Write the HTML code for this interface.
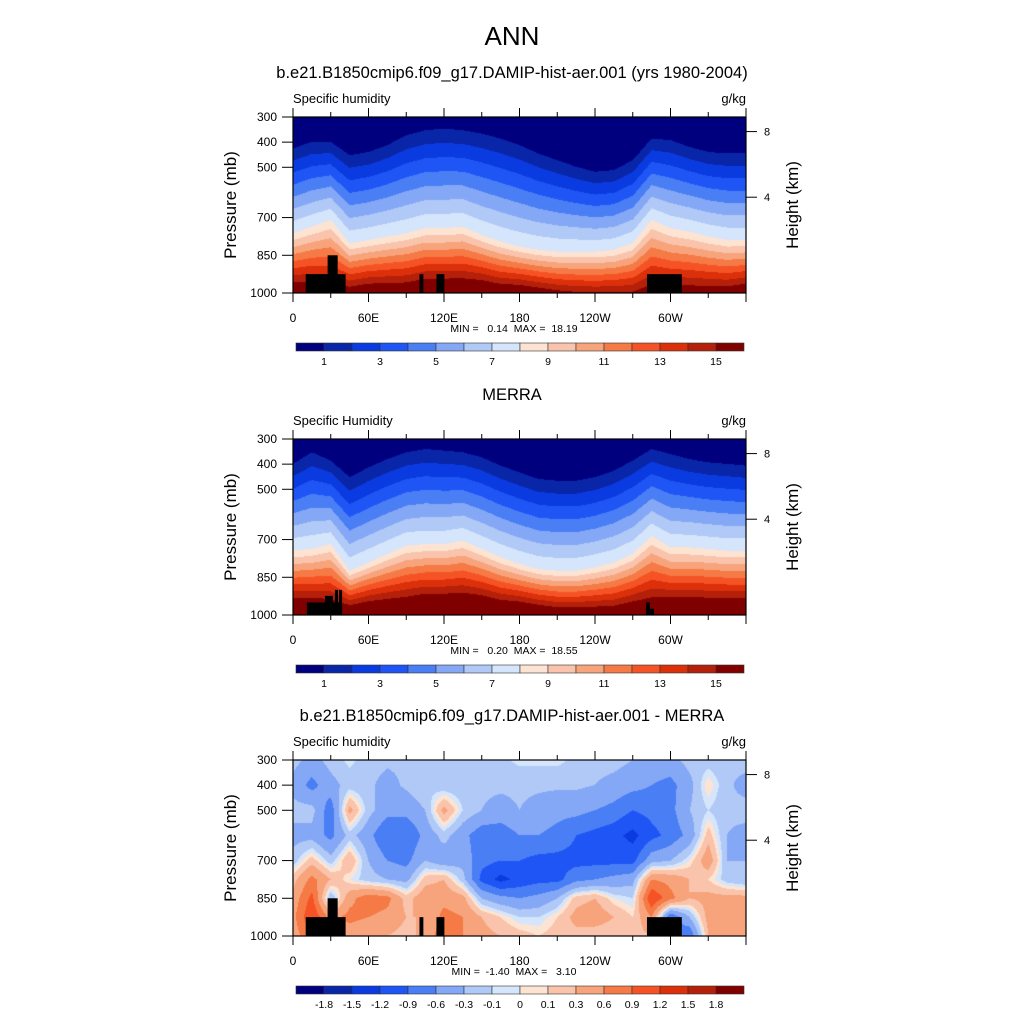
<!DOCTYPE html>
<html><head><meta charset="utf-8"><style>
html,body{margin:0;padding:0;background:#fff;}
#root{position:relative;width:1024px;height:1024px;overflow:hidden;background:#fff;}
canvas{position:absolute;}
svg{position:absolute;left:0;top:0;}
text{font-family:"Liberation Sans",sans-serif;fill:#000;white-space:pre;}
</style></head><body>
<div id="root">
<canvas id="c1" width="453" height="176" style="left:293px;top:117px"></canvas>
<canvas id="c2" width="453" height="176" style="left:293px;top:439px"></canvas>
<canvas id="c3" width="453" height="176" style="left:293px;top:760px"></canvas>
<svg id="ov" width="1024" height="1024">
<text x="512" y="45" font-size="26" text-anchor="middle">ANN</text>
</svg>
</div>
<script>
// ---- data ----
const lons = [0,15,30,45,60,75,90,105,120,135,150,165,180,195,210,225,240,255,270,285,300,315,330,345,360];
// panel 1 (model): pressure of q=1 contour, q=8 contour, q at 1000 mb
const modelP1 = [425,399,399,452,439,412,373,353,346,353,366,386,412,445,472,498,518,511,472,386,392,419,439,445,445];
const modelP8 = [762,736,709,802,789,775,762,742,742,736,769,795,815,828,835,835,835,828,802,709,742,756,775,789,789];
const modelQs = [16.5,16.5,16,16,16.5,16.5,16.5,17,17,17,17,16.5,16.5,16,15.5,15.2,15.1,15.1,15.2,16,16,16,16,16,16.5];
// panel 2 (MERRA)
const merraP1 = [399,353,386,452,413,380,353,340,346,353,373,406,433,459,466,466,452,426,386,340,360,380,393,399,406];
const merraP8 = [744,737,718,824,791,757,724,718,718,704,737,770,797,817,824,824,810,791,757,685,731,731,737,744,744];
const merraQs = [17.5,17.5,17,17,17.5,17.5,17.5,18,18,18,18,17.5,17.5,17,16.5,16.5,16.5,16.5,17,17,17.5,17.5,17.5,17.5,17.5];
// panel 3 (difference) grid: rows = lons, cols = pressure levels
const diffLevels = [300,400,500,600,700,775,850,925,1000];
const diffCols = [
 [-0.2,-0.4,-0.2,-0.4,-0.2,0.2,0.4,0.5,0.4],
 [-0.4,-0.7,-0.2,-0.4,0.2,0.7,1.0,1.2,0.9],
 [-0.2,-0.4,-0.8,-0.7,-0.2,0.3,-0.3,0.5,0.3],
 [-0.05,-0.2,0.4,-0.2,0.3,0.0,0.5,0.7,0.4],
 [-0.2,-0.25,-0.2,-0.5,-0.3,-0.2,0.8,0.6,0.3],
 [-0.25,-0.4,-0.5,-0.9,-0.6,-0.3,0.7,0.5,0.3],
 [-0.25,-0.25,-0.5,-0.9,-0.7,-0.4,0.2,0.3,0.2],
 [-0.1,-0.1,-0.3,-0.5,-0.3,0.2,0.5,0.3,0.4],
 [-0.25,-0.25,0.4,-0.2,-0.5,0.3,0.5,0.7,0.8],
 [-0.2,-0.25,-0.1,-0.5,-0.4,-0.2,0.4,0.6,0.6],
 [-0.2,-0.25,-0.3,-0.8,-0.8,-1.0,-0.3,0.3,0.4],
 [-0.15,-0.25,-0.4,-0.8,-0.9,-1.3,-0.5,0.1,0.3],
 [-0.05,-0.25,-0.3,-0.6,-0.9,-1.1,-0.6,-0.1,0.2],
 [-0.05,-0.25,-0.4,-0.6,-1.0,-1.0,-0.5,-0.1,0.1],
 [-0.05,-0.25,-0.5,-0.7,-1.0,-1.0,-0.3,0.1,0.2],
 [-0.15,-0.25,-0.5,-0.9,-1.0,-0.7,0.2,0.4,0.2],
 [-0.2,-0.3,-0.6,-1.0,-1.0,-0.6,0.3,0.5,0.1],
 [-0.2,-0.4,-0.7,-1.1,-1.0,-0.5,0.0,0.3,0.1],
 [-0.3,-0.5,-0.9,-1.3,-1.0,-0.4,-0.1,0.1,0.2],
 [-0.4,-0.6,-0.8,-1.0,-0.4,0.6,1.2,0.6,0.3],
 [-0.4,-0.7,-0.7,-0.8,-0.3,0.5,0.7,-0.9,-0.5],
 [-0.2,-0.4,-0.3,-0.5,0.0,0.3,0.3,-0.3,-0.9],
 [-0.2,0.1,-0.1,0.2,0.5,0.1,0.4,0.4,0.3],
 [-0.25,-0.25,-0.25,-0.3,-0.3,-0.2,0.4,0.5,0.4],
 [-0.2,-0.4,-0.2,-0.4,-0.3,-0.3,0.4,0.4,0.4]
];
// terrain blocks [lonStart, lonEnd, topPressure]
const terrainModel = [[10.1,41.8,925],[27.5,35.5,850],[100.5,103.6,925],[114,120.3,925],[281.3,309,925]];
const terrainMerra = [[11,39,950],[25.4,31.7,924],[33.3,35.7,900],[36.5,39,900],[280.5,283.7,950],[283.7,286.9,975]];
const absLevels = [1,2,3,4,5,6,7,8,9,10,11,12,13,14,15];
const absLabels = ['1','3','5','7','9','11','13','15'];
const diffBounds = [-1.8,-1.5,-1.2,-0.9,-0.6,-0.3,-0.1,0,0.1,0.3,0.6,0.9,1.2,1.5,1.8];
const diffLabels = ['-1.8','-1.5','-1.2','-0.9','-0.6','-0.3','-0.1','0','0.1','0.3','0.6','0.9','1.2','1.5','1.8'];
const xTickVals = [0,60,120,180,240,300];
const xTickLabels = ['0','60E','120E','180','120W','60W'];
const yTickVals = [300,400,500,700,850,1000];
const hTickVals = [8,4];
const hTickP = [358,619];
const palette = ['#00007f','#0a26a8','#0a3be0','#1f55f5','#4a7ef5','#84a8f5','#b0c9f7','#d5e5fb','#fde4d2','#f9c4ab','#f7a47d','#f57a45','#f55325','#db300a','#b4200a','#800000'];

// ---- axis functions ----
const PL=293, PW=453, PH=176;
const xOf = lon => PL + lon/360*PW;
const yOf = (p,T) => T + (p-300)/700*PH;

function hexRgb(h){return [parseInt(h.substr(1,2),16),parseInt(h.substr(3,2),16),parseInt(h.substr(5,2),16)];}
const palRgb = palette.map(hexRgb);
function colorIdx(v,b){let i=0;while(i<b.length && v>=b[i])i++;return i;}
function interpArr(arr,lon){const s=lon/15;let i=Math.floor(s);if(i>=arr.length-1)i=arr.length-2;const f=s-i;return arr[i]*(1-f)+arr[i+1]*f;}
function qProfile(p,p1,p8,qs){
  if(p<p1) return 0.3+0.7*(p-300)/(p1-300);
  if(p<p8) return 1+7*(p-p1)/(p8-p1);
  return 8+(qs-8)*(p-p8)/(1000-p8);
}
function drawField(id,fn,bounds){
  const c=document.getElementById(id),ctx=c.getContext('2d');
  const img=ctx.createImageData(PW,PH);
  for(let px=0;px<PW;px++){
    const lon=(px+0.5)/PW*360;
    for(let py=0;py<PH;py++){
      const p=300+(py+0.5)/PH*700;
      const rgb=palRgb[colorIdx(fn(lon,p),bounds)];
      const k=(py*PW+px)*4;
      img.data[k]=rgb[0];img.data[k+1]=rgb[1];img.data[k+2]=rgb[2];img.data[k+3]=255;
    }
  }
  ctx.putImageData(img,0,0);
}
drawField('c1',(lon,p)=>qProfile(p,interpArr(modelP1,lon),interpArr(modelP8,lon),interpArr(modelQs,lon)),absLevels);
drawField('c2',(lon,p)=>qProfile(p,interpArr(merraP1,lon),interpArr(merraP8,lon),interpArr(merraQs,lon)),absLevels);
drawField('c3',(lon,p)=>{
  const s=lon/15;let i=Math.min(Math.floor(s),23);const f=s-i;
  let j=0;while(j<diffLevels.length-2 && p>diffLevels[j+1])j++;
  const g=(p-diffLevels[j])/(diffLevels[j+1]-diffLevels[j]);
  const a=diffCols[i][j]*(1-g)+diffCols[i][j+1]*g;
  const b=diffCols[i+1][j]*(1-g)+diffCols[i+1][j+1]*g;
  return a*(1-f)+b*f;
},diffBounds);

// ---- SVG overlay ----
const ov=document.getElementById('ov');
const NS='http://www.w3.org/2000/svg';
function el(tag,attrs,txt){const e=document.createElementNS(NS,tag);for(const k in attrs)e.setAttribute(k,attrs[k]);if(txt!==undefined)e.textContent=txt;ov.appendChild(e);return e;}

function panel(T,title,titleName,terrain,minmax,isDiff){
  let t;
  t=el('text',{x:512,y:T-39,'font-size':16.5,'text-anchor':'middle'},title);
  
  
  t=el('text',{x:293,y:T-14,'font-size':13},isDiff==='merra'?'Specific Humidity':'Specific humidity');
  
  
  t=el('text',{x:746,y:T-14,'font-size':13,'text-anchor':'end'},'g/kg');
  
  
  terrain.forEach(b=>{
    const r=el('rect',{x:xOf(b[0]),y:yOf(b[2],T),width:xOf(b[1])-xOf(b[0]),height:yOf(1000,T)-yOf(b[2],T),fill:'#000'});
    
    
  });
  const fr=el('rect',{x:PL,y:T,width:PW,height:PH,fill:'none',stroke:'#000','stroke-width':1.2});
  
  
  for(let lon=0;lon<=360;lon+=30){
    const x=xOf(lon),len=(lon%60===0)?9:5;
    el('line',{x1:x,x2:x,y1:T,y2:T-len,stroke:'#000','stroke-width':1});
    el('line',{x1:x,x2:x,y1:T+PH,y2:T+PH+len,stroke:'#000','stroke-width':1});
  }
  xTickVals.forEach((v,i)=>{
    const tx=el('text',{x:xOf(v),y:T+PH+29,'font-size':12,'text-anchor':'middle'},xTickLabels[i]);
    
    
  });
  yTickVals.forEach(v=>{
    const y=yOf(v,T);
    el('line',{x1:PL-11,x2:PL,y1:y,y2:y,stroke:'#000','stroke-width':1});
    const tx=el('text',{x:277,y:y+4,'font-size':12,'text-anchor':'end'},String(v));
    
    
  });
  hTickVals.forEach((v,i)=>{
    const y=yOf(hTickP[i],T);
    el('line',{x1:PL+PW,x2:PL+PW+11,y1:y,y2:y,stroke:'#000','stroke-width':1});
    const tx=el('text',{x:764,y:y+4,'font-size':11},String(v));
    
    
  });
  t=el('text',{x:0,y:0,'font-size':17,'text-anchor':'middle',transform:`translate(236,${T+PH/2}) rotate(-90)`},'Pressure (mb)');
  
  
  t=el('text',{x:0,y:0,'font-size':17,'text-anchor':'middle',transform:`translate(798,${T+PH/2}) rotate(-90)`},'Height (km)');
  
  
  t=el('text',{x:514,y:T+PH+39,'font-size':10.5,'text-anchor':'middle'},minmax);
  
  
  const cy=T+226, bw=28;
  for(let i=0;i<16;i++){
    const r=el('rect',{x:296+i*bw,y:cy,width:bw,height:8,fill:palette[i],stroke:'#333','stroke-width':0.6});
    
    
  }
  if(isDiff===true){
    diffLabels.forEach((s,i)=>{
      const tx=el('text',{x:296+(i+1)*bw,y:cy+22,'font-size':10.5,'text-anchor':'middle'},s);
      
      
    });
  } else {
    absLabels.forEach((s,i)=>{
      const tx=el('text',{x:296+(2*i+1)*bw,y:cy+22,'font-size':10.5,'text-anchor':'middle'},s);
      
      
    });
  }
}
panel(117,'b.e21.B1850cmip6.f09_g17.DAMIP-hist-aer.001 (yrs 1980-2004)','model-panel-title',terrainModel,'MIN =   0.14  MAX =  18.19',false);
panel(439,'MERRA','merra-panel-title',terrainMerra,'MIN =   0.20  MAX =  18.55','merra');
panel(760,'b.e21.B1850cmip6.f09_g17.DAMIP-hist-aer.001 - MERRA','diff-panel-title',terrainModel,'MIN =  -1.40  MAX =   3.10',true);
</script>
</body></html>
